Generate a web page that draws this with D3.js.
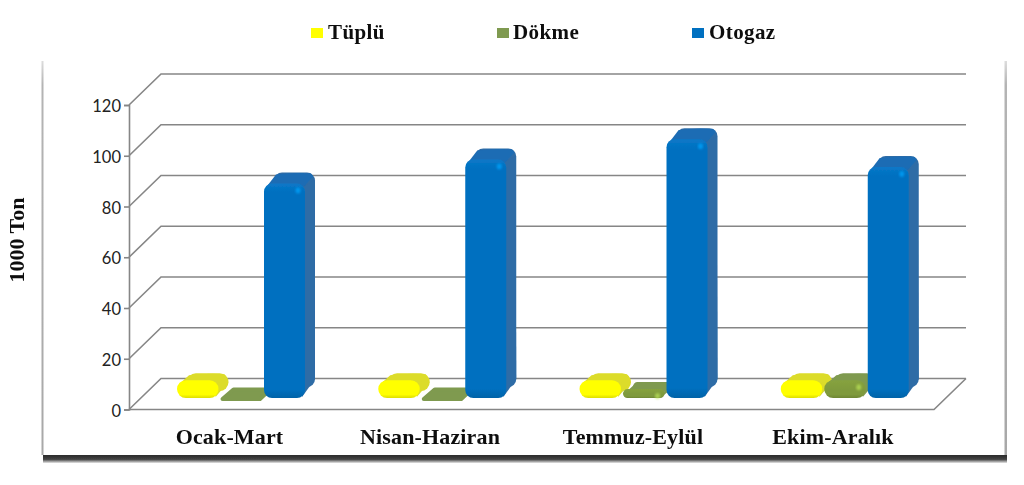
<!DOCTYPE html>
<html><head><meta charset="utf-8">
<script src="https://cdn.jsdelivr.net/npm/d3@7"></script>
<style>html,body{margin:0;padding:0;background:#fff}svg{display:block}</style></head>
<body><svg id="c" width="1024" height="485"></svg>
<script>
const categories=["Ocak-Mart","Nisan-Haziran","Temmuz-Eylül","Ekim-Aralık"];
const seriesNames=["Tüplü","Dökme","Otogaz"];
const tuplu=[7,7,7,7];
const dokme=[1,1,3.5,7];
const otogaz=[84.5,94,102,91];
const yTicks=[0,20,40,60,80,100,120];
const seriesValues=[tuplu,dokme,otogaz];
const colors=["#ffff00","#7f9a3c","#0070c0"];
const tops=["#dcdc2a","#7f9a50","#1c6cb4"];
const sides=["#dcdc2a","#7f9a50","#2f6ca6"];

const svg=d3.select("#c");
const defs=svg.append("defs");
const blur=(id,s)=>defs.append("filter").attr("id",id).attr("x","-20%").attr("y","-20%").attr("width","140%").attr("height","140%").append("feGaussianBlur").attr("stdDeviation",s);
blur("sh",1.2);blur("soft",0.5);blur("txt",0.25);blur("glow",1);
const vfade=defs.append("linearGradient").attr("id","fade").attr("x1",0).attr("x2",0).attr("y1",0).attr("y2",1);
vfade.append("stop").attr("offset","0%").attr("stop-color","#ddd");
vfade.append("stop").attr("offset","6%").attr("stop-color","#b4b4b4");
vfade.append("stop").attr("offset","100%").attr("stop-color","#a8a8a8");
const botf=defs.append("linearGradient").attr("id","bot").attr("x1",0).attr("x2",0).attr("y1",0).attr("y2",1);
botf.append("stop").attr("offset","0%").attr("stop-color","#2a2a2a");
botf.append("stop").attr("offset","55%").attr("stop-color","#444");
botf.append("stop").attr("offset","100%").attr("stop-color","#e6e6e6");
colors.forEach((c,i)=>{
  const g=defs.append("linearGradient").attr("id","g"+i).attr("x1",0).attr("x2",0).attr("y1",0).attr("y2",1);
  const h=d3.color(c).brighter(0.15), d=d3.color(c).darker(0.4);
  g.append("stop").attr("offset","0%").attr("stop-color",i==2?"#0a78c8":h);
  g.append("stop").attr("offset",i==2?"4%":"55%").attr("stop-color",c);
  g.append("stop").attr("offset",i==2?"96%":"80%").attr("stop-color",i==2?"#0070c0":c);
  g.append("stop").attr("offset","100%").attr("stop-color",i==2?"#0563a8":d);
});

// panel edges
svg.append("rect").attr("x",41.5).attr("y",61).attr("width",2).attr("height",394).attr("fill","url(#fade)").attr("filter","url(#soft)");
svg.append("rect").attr("x",1004.5).attr("y",61).attr("width",2.5).attr("height",394).attr("fill","url(#fade)").attr("filter","url(#soft)");
svg.append("rect").attr("x",43).attr("y",455).attr("width",964).attr("height",8).attr("fill","url(#bot)").attr("filter","url(#soft)");

const y=d3.scaleLinear().domain([0,120]).range([409.5,105]);
const xFront=d3.scaleLinear().domain([0,1]).range([129,934]);
const wall={dx:32,dy:-31}, base={dx:12,dy:-11.5}, bar={dx:10,dy:-11};
const grid="#868686";

const g=svg.append("g");
yTicks.forEach(t=>{
  const yy=y(t);
  const x0=xFront(0)+wall.dx, x1=xFront(1)+wall.dx;
  g.append("path").attr("d",`M${xFront(0)},${yy}L${x0},${yy+wall.dy}L${x1},${yy+wall.dy}`).attr("fill","none").attr("stroke",grid).attr("stroke-width",1.6);
});
g.append("path").attr("d",`M${xFront(0)},${y(0)}L${xFront(1)},${y(0)}L${xFront(1)+wall.dx},${y(0)+wall.dy}`).attr("fill","none").attr("stroke",grid).attr("stroke-width",1.6);

const ax=svg.append("g").attr("transform",`translate(${xFront(0)},0)`).call(d3.axisLeft(y).tickValues(yTicks).tickSize(5).tickPadding(3));
ax.selectAll("path,line").attr("stroke",grid).attr("stroke-width",1.6);
ax.selectAll("text").attr("font-family","Lato, sans-serif").attr("font-size",16.5).attr("fill","#222").attr("dy","0.4em");

const xBand=d3.scaleBand().domain(categories).range([141.5,946.5]);
const xInner=d3.scaleBand().domain(seriesNames).range([35.5,166]);
const hv=v=>y(0)-y(v);
const zeroY=y(0)+base.dy;

categories.forEach((cat,ci)=>{
  seriesNames.forEach((s,si)=>{
    const v=seriesValues[si][ci];
    const x=xBand(cat)+xInner(s), w=si==2?41:41.5;
    const h=hv(v);
    const tY=zeroY-h;
    const group=svg.append("g").attr("filter","url(#soft)");
    if(v<3){
      // nearly flat slab: rounded parallelogram
      const p=[[x+2,zeroY+1],[x+bar.dx+3,tY-6],[x+w+bar.dx-2,tY-6],[x+w-2,zeroY+1]];
      group.append("path").attr("d",d3.line()(p)+"Z").attr("fill",tops[si]).attr("stroke",tops[si]).attr("stroke-width",4).attr("stroke-linejoin","round");
      return;
    }
    const r=si==2?8:Math.min(9,h/2);
    const dy=si==2?bar.dy:-7;
    // back face
    group.append("rect").attr("x",x+bar.dx).attr("y",tY+dy).attr("width",w).attr("height",h).attr("rx",r).attr("fill",sides[si]);
    // right side
    group.append("path").attr("d",`M${x+w-2},${tY+3}L${x+w+bar.dx-1},${tY+dy+r}L${x+w+bar.dx},${tY+dy+h-r}L${x+w-3},${tY+h-1}Z`).attr("fill",sides[si]);
    // top face
    group.append("path").attr("d",`M${x+2},${tY+4}L${x+bar.dx+2},${tY+dy+2}Q${x+bar.dx+w/2},${tY+dy-0.5} ${x+bar.dx+w-4},${tY+dy+1}L${x+w+bar.dx-2},${tY+dy+4}L${x+w-1},${tY+3}Z`).attr("fill",tops[si]);
    // front face
    group.append("rect").attr("x",x).attr("y",tY).attr("width",w).attr("height",h).attr("rx",r).attr("fill",`url(#g${si})`);
    // corner highlight
    if(si>0) svg.append("ellipse").attr("cx",x+w-7).attr("cy",tY+7).attr("rx",2.5).attr("ry",3).attr("fill",d3.color(colors[si]).brighter(1.1)).attr("opacity",0.7).attr("filter","url(#glow)");
  });
  svg.append("text").attr("x",[229.5,430,633,833][ci]).attr("y",444).attr("text-anchor","middle").attr("filter","url(#txt)").attr("letter-spacing",0.15)
    .attr("font-family","Liberation Serif, serif").attr("font-weight","bold").attr("font-size",22).attr("fill","#111").text(cat);
});

// legend
const legX=d3.scaleOrdinal().domain(seriesNames).range([311,497,692]);
seriesNames.forEach((s,i)=>{
  svg.append("rect").attr("x",legX(s)).attr("y",28).attr("width",12).attr("height",10).attr("fill",i==1?"#7f9a50":colors[i]);
  svg.append("text").attr("x",legX(s)+[17,16,17][i]).attr("y",38.5).attr("filter","url(#txt)").attr("font-family","Liberation Serif, serif").attr("font-weight","bold").attr("font-size",21).attr("fill","#111").attr("letter-spacing",0.4).text(s);
});
svg.append("text").attr("transform","translate(24,240) rotate(-90)").attr("text-anchor","middle").attr("filter","url(#txt)").attr("font-family","Liberation Serif, serif").attr("font-weight","bold").attr("font-size",22).attr("fill","#111").text("1000 Ton");
</script></body></html>
